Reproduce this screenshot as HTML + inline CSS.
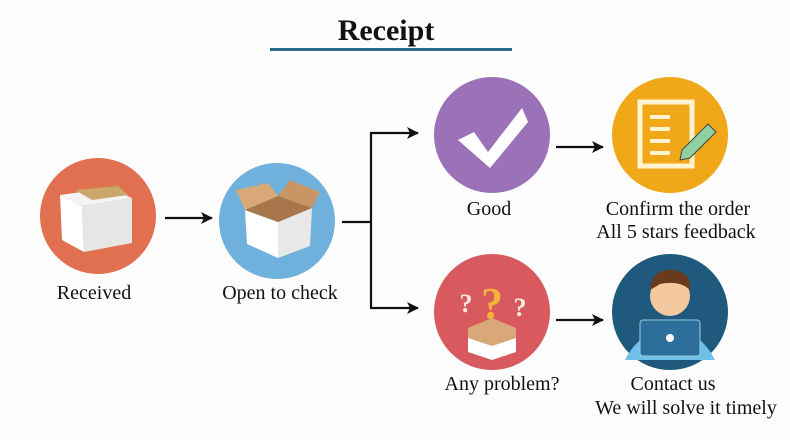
<!DOCTYPE html><html><head><style>body{margin:0;background:#fff}svg text{font-family:"Liberation Serif",serif}</style></head><body>
<svg width="790" height="436" viewBox="0 0 790 436">
<defs><marker id="a" markerWidth="12" markerHeight="12" refX="11" refY="6" orient="auto" markerUnits="userSpaceOnUse"><path d="M0,0 L12,6 L0,12 L3,6z" fill="#111"/></marker></defs>
<rect width="790" height="436" fill="#fdfdfd"/>
<text x="386" y="40" font-size="30" font-weight="bold" text-anchor="middle" fill="#111">Receipt</text>
<rect x="270" y="48" width="242" height="3" fill="#2a6a8c"/>
<g stroke="#111" stroke-width="2.2" fill="none">
<line x1="165" y1="218" x2="212" y2="218" marker-end="url(#a)"/>
<polyline points="342,222 371,222"/>
<line x1="371" y1="133" x2="371" y2="308"/>
<line x1="370" y1="133" x2="418" y2="133" marker-end="url(#a)"/>
<line x1="370" y1="308" x2="418" y2="308" marker-end="url(#a)"/>
<line x1="556" y1="147" x2="603" y2="147" marker-end="url(#a)"/>
<line x1="556" y1="320" x2="603" y2="320" marker-end="url(#a)"/>
</g>
<circle cx="98" cy="216" r="58" fill="#e0704f"/>
<g><polygon points="60,195 110,188 132,198 82,206" fill="#f4f4f4"/><polygon points="60,195 82,206 84,252 62,240" fill="#fff"/><polygon points="82,206 132,198 132,243 84,252" fill="#e6e6e6"/><polygon points="75,190 118,186 128,195 92,200" fill="#c9a76a"/></g>
<circle cx="277" cy="221" r="58" fill="#6fb1dc"/>
<g><polygon points="245,210 278,222 278,258 247,244" fill="#fff"/><polygon points="278,222 312,208 310,246 278,258" fill="#e8e8e8"/><polygon points="245,210 278,196 312,208 278,222" fill="#a8764a"/><polygon points="245,210 236,190 268,183 278,196" fill="#d9a878"/><polygon points="278,196 290,180 320,192 312,208" fill="#c99565"/></g>
<circle cx="492" cy="135" r="58" fill="#9b72b8"/>
<path d="M458,140 L474,132 L488,152 L522,108 L528,122 L490,168 Z" fill="#fff"/>
<circle cx="670" cy="135" r="58" fill="#f0a818"/>
<rect x="640" y="102" width="52" height="64" fill="none" stroke="#fff3d0" stroke-width="5"/>
<g fill="#fff3d0"><rect x="650" y="115" width="20" height="4"/><rect x="650" y="127" width="20" height="4"/><rect x="650" y="139" width="20" height="4"/><rect x="650" y="151" width="20" height="4"/></g>
<polygon points="682,150 708,124 716,132 690,158 680,160" fill="#8fd0a0" stroke="#444" stroke-width="1"/>
<circle cx="492" cy="312" r="58" fill="#d95a5e"/>
<text x="492" y="318" font-size="44" font-weight="bold" fill="#f4b23a" text-anchor="middle" font-family="Liberation Sans,sans-serif">?</text>
<text x="466" y="312" font-size="26" font-weight="bold" fill="#fbe9e0" text-anchor="middle" font-family="Liberation Sans,sans-serif">?</text>
<text x="520" y="316" font-size="26" font-weight="bold" fill="#fbe9e0" text-anchor="middle" font-family="Liberation Sans,sans-serif">?</text>
<polygon points="468,328 492,318 516,328 516,350 492,358 468,350" fill="#d9a878"/><polygon points="468,338 492,346 516,338 516,352 492,360 468,352" fill="#fff"/>
<circle cx="670" cy="312" r="58" fill="#1f5a7e"/>
<path d="M625,360 Q640,330 670,330 Q700,330 715,360 Z" fill="#6fc0e8"/>
<circle cx="670" cy="296" r="20" fill="#f5c9a0"/><path d="M650,290 Q652,268 672,270 Q692,272 690,290 Q680,280 660,284 Z" fill="#6a3a1c"/>
<rect x="640" y="320" width="60" height="36" rx="3" fill="#2d6f9a" stroke="#9cd" stroke-width="1"/>
<circle cx="670" cy="338" r="4" fill="#fff"/>
<g font-size="20" fill="#111" text-anchor="middle">
<text x="94" y="299">Received</text>
<text x="280" y="299">Open to check</text>
<text x="489" y="215">Good</text>
<text x="678" y="215">Confirm the order</text>
<text x="676" y="238">All 5 stars feedback</text>
<text x="502" y="390">Any problem?</text>
<text x="673" y="390">Contact us</text>
<text x="686" y="414">We will solve it timely</text>
</g>
</svg></body></html>
